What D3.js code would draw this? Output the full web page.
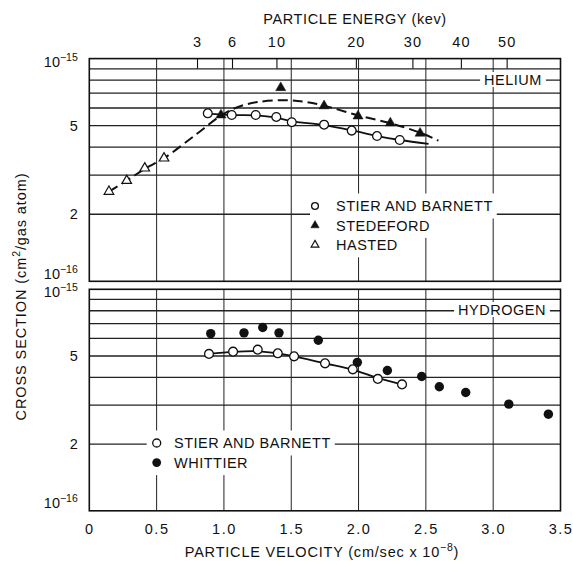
<!DOCTYPE html>
<html>
<head>
<meta charset="utf-8">
<script src="https://cdn.jsdelivr.net/npm/d3@7"></script>
<style>
  html, body { margin: 0; padding: 0; background: #fff; }
  svg { display: block; }
  text { font-family: "Liberation Sans", Arial, sans-serif; fill: #111; }
</style>
</head>
<body>
<svg id="chart" width="573" height="562"></svg>
<script>
// Axis ticks
const velocityTicks = [0, 0.5, 1.0, 1.5, 2.0, 2.5, 3.0, 3.5];
const energyTicks = [3, 6, 10, 20, 30, 40, 50];                 // keV
const energyTickVelocity = [0.80, 1.06, 1.39, 1.98, 2.40, 2.76, 3.10];
const sigmaGrid = [2, 3, 4, 5, 6, 7, 8, 9];                     // x 10^-16 cm^2
const sigmaLabels = [1, 2, 5, 10];

// Helium: velocity (10^8 cm/sec) and cross section (10^-16 cm^2)
const heStierV = [0.88, 1.058, 1.236, 1.389, 1.504, 1.744, 1.949, 2.137, 2.306];
const heStierS = [5.68, 5.58, 5.58, 5.47, 5.18, 5.05, 4.75, 4.49, 4.31];
const heStedefordV = [0.978, 1.422, 1.744, 1.996, 2.236, 2.457];
const heStedefordS = [5.58, 7.40, 6.13, 5.52, 5.14, 4.62];
const heHastedV = [0.146, 0.278, 0.412, 0.555];
const heHastedS = [2.53, 2.83, 3.22, 3.57];
// Helium fitted curves
const heSolidV = [0.88, 1.06, 1.24, 1.39, 1.50, 1.74, 1.95, 2.14, 2.31, 2.52];
const heSolidS = [5.66, 5.58, 5.56, 5.43, 5.24, 5.03, 4.76, 4.49, 4.31, 4.14];
const heDashV = [0.146, 0.278, 0.412, 0.555, 0.78, 0.978, 1.10, 1.25, 1.45, 1.60, 1.744, 2.0, 2.24, 2.457, 2.593];
const heDashS = [2.53, 2.83, 3.20, 3.57, 4.50, 5.55, 6.05, 6.38, 6.50, 6.40, 6.15, 5.55, 5.12, 4.65, 4.28];

// Hydrogen
const hStierV = [0.889, 1.068, 1.251, 1.400, 1.521, 1.751, 1.957, 2.143, 2.323];
const hStierS = [5.11, 5.23, 5.34, 5.14, 4.98, 4.63, 4.35, 3.94, 3.72];
const hWhittierV = [0.902, 1.149, 1.288, 1.409, 1.701, 1.991, 2.214, 2.469, 2.600, 2.796, 3.116, 3.410];
const hWhittierS = [6.31, 6.36, 6.72, 6.36, 5.89, 4.68, 4.30, 4.04, 3.63, 3.42, 3.03, 2.73];
const hSolidV = [0.889, 1.07, 1.25, 1.40, 1.52, 1.75, 1.96, 2.14, 2.32];
const hSolidS = [5.11, 5.22, 5.25, 5.14, 4.98, 4.63, 4.33, 3.98, 3.72];

const svg = d3.select("#chart");
svg.append("rect").attr("width", 573).attr("height", 562).attr("fill", "#fff");

const x = d3.scaleLinear().domain([0, 3.5]).range([89.3, 560.5]);
const xE = d3.scaleLinear().domain(energyTicks).range(energyTickVelocity.map(x));

const panels = [
  { name: "HELIUM", y: d3.scaleLog().domain([1, 10]).range([281.3, 58.6]) },
  { name: "HYDROGEN", y: d3.scaleLog().domain([1, 10]).range([510.8, 289.3]) }
];
const pts = (v, s) => v.map((d, i) => [d, s[i]]);

function drawPanel(p) {
  const g = svg.append("g");
  const y = p.y;
  const [yb, yt] = y.range();
  const [xl, xr] = x.range();

  // grid
  g.append("g").selectAll("line").data(sigmaGrid).join("line")
    .attr("x1", xl).attr("x2", xr)
    .attr("y1", d => y(d)).attr("y2", d => y(d))
    .attr("stroke", "#222").attr("stroke-width", 1.3);
  g.append("g").selectAll("line").data(velocityTicks.slice(1, -1)).join("line")
    .attr("x1", d => x(d)).attr("x2", d => x(d))
    .attr("y1", yt).attr("y2", yb)
    .attr("stroke", "#222").attr("stroke-width", 1);

  // left axis labels
  const ax = g.append("g").attr("transform", `translate(${xl},0)`)
    .call(d3.axisLeft(y).tickValues(sigmaLabels).tickSize(0).tickPadding(11.5).tickFormat(""));
  ax.select(".domain").remove();
  ax.selectAll(".tick text").each(function (d) {
    const t = d3.select(this).attr("font-size", 14.5).attr("font-family", null).attr("fill", "#111");
    if (d === 1 || d === 10) {
      t.attr("dy", null).attr("y", d === 10 ? 7.5 : -3);
      t.append("tspan").text("10");
      t.append("tspan").attr("font-size", 10.5).attr("dy", -6).text("−" + (d === 10 ? 15 : 16));
    } else {
      t.text(d);
    }
  });
  return g;
}

const gHe = drawPanel(panels[0]);
const gH = drawPanel(panels[1]);

// knockout label on the grid
function gridLabel(g, text, cx, cy) {
  const r = g.append("rect").attr("fill", "#fff");
  const t = g.append("text").attr("x", cx).attr("y", cy).attr("text-anchor", "middle")
    .attr("dy", "0.36em").attr("font-size", 14.5).attr("letter-spacing", 0.5).text(text);
  const b = t.node().getBBox();
  r.attr("x", b.x - 4).attr("y", cy - 7.5).attr("width", b.width + 8).attr("height", 15);
}
gridLabel(gHe, "HELIUM", 513, 79.5);
gridLabel(gH, "HYDROGEN", 502, 309.5);

// legends
function legend(g, items, sx, tx, y0, dy, padL) {
  items.forEach((it, i) => {
    const yy = y0 + i * dy;
    const r = g.append("rect").attr("fill", "#fff");
    const t = g.append("text").attr("x", tx).attr("y", yy).attr("dy", "0.36em")
      .attr("font-size", 14.5).attr("letter-spacing", 0.5).text(it.label);
    const w = t.node().getComputedTextLength();
    r.attr("x", sx - padL).attr("y", yy - 12.5).attr("width", tx + w - sx + padL + 4).attr("height", 25);
    it.draw(g.append("g").attr("transform", `translate(${sx},${yy})`));
  });
}
const openCircle = (r) => (s) => s.append("circle").attr("r", r).attr("fill", "#fff").attr("stroke", "#111").attr("stroke-width", 1.3);
const fullCircle = (r) => (s) => s.append("circle").attr("r", r).attr("fill", "#111");
const triangle = (size, fill) => (s) => s.append("path").attr("d", d3.symbol(d3.symbolTriangle, size)())
  .attr("fill", fill ? "#111" : "#fff").attr("stroke", "#111").attr("stroke-width", fill ? 0.5 : 1.2);

legend(gHe, [
  { label: "STIER AND BARNETT", draw: openCircle(3.4) },
  { label: "STEDEFORD", draw: triangle(30, true) },
  { label: "HASTED", draw: triangle(26, false) }
], 315, 336, 206, 19.4, 5);
legend(gH, [
  { label: "STIER AND BARNETT", draw: openCircle(4) },
  { label: "WHITTIER", draw: fullCircle(4.4) }
], 156.7, 174, 443, 19.6, 10);

// curves
function curve(g, y, data, dashed) {
  g.append("path").datum(data)
    .attr("d", d3.line().x(d => x(d[0])).y(d => y(d[1])).curve(d3.curveCatmullRom.alpha(0.5)))
    .attr("fill", "none").attr("stroke", "#111").attr("stroke-width", dashed ? 2 : 1.8)
    .attr("stroke-dasharray", dashed ? "10,5" : null);
}
const yHe = panels[0].y, yH = panels[1].y;
curve(gHe, yHe, pts(heDashV, heDashS), true);
curve(gHe, yHe, pts(heSolidV, heSolidS), false);
curve(gH, yH, pts(hSolidV, hSolidS), false);

// markers
function markers(g, y, data, draw) {
  data.forEach(d => draw(g.append("g").attr("transform", `translate(${x(d[0])},${y(d[1])})`)));
}
markers(gHe, yHe, pts(heHastedV, heHastedS), triangle(40, false));
markers(gHe, yHe, pts(heStedefordV, heStedefordS), triangle(44, true));
markers(gHe, yHe, pts(heStierV, heStierS), openCircle(4.4));
markers(gH, yH, pts(hWhittierV, hWhittierS), fullCircle(4.7));
markers(gH, yH, pts(hStierV, hStierS), openCircle(4.4));

// panel frames
panels.forEach(p => {
  const [yb, yt] = p.y.range();
  svg.append("rect").attr("x", x.range()[0]).attr("y", yt)
    .attr("width", x.range()[1] - x.range()[0]).attr("height", yb - yt)
    .attr("fill", "none").attr("stroke", "#111").attr("stroke-width", 1.6);
});

// top energy axis
const topAx = svg.append("g").attr("transform", `translate(0,${panels[0].y.range()[1]})`)
  .call(d3.axisTop(xE).tickValues(energyTicks).tickSizeInner(-10).tickSizeOuter(0).tickPadding(12));
topAx.select(".domain").remove();
topAx.selectAll(".tick line").attr("stroke", "#111").attr("stroke-width", 1.1);
topAx.selectAll(".tick text").attr("font-size", 14.5).attr("font-family", null).attr("fill", "#111").attr("letter-spacing", 1);

// bottom velocity axis
const botAx = svg.append("g").attr("transform", `translate(0,${panels[1].y.range()[0]})`)
  .call(d3.axisBottom(x).tickValues(velocityTicks).tickSize(0).tickPadding(13).tickFormat(d3.format(".1f")));
botAx.select(".domain").remove();
botAx.selectAll(".tick text").attr("font-size", 14.5).attr("font-family", null).attr("fill", "#111")
  .attr("letter-spacing", 1.5).text(d => d === 0 ? "0" : d3.format(".1f")(d));

// titles
svg.append("text").attr("x", 355).attr("y", 23.5).attr("text-anchor", "middle")
  .attr("font-size", 14.5).attr("letter-spacing", 0.6).text("PARTICLE ENERGY (kev)");

const xt = svg.append("text").attr("x", 322).attr("y", 556.5).attr("text-anchor", "middle")
  .attr("font-size", 14.5).attr("letter-spacing", 0.8);
xt.append("tspan").text("PARTICLE VELOCITY (cm/sec x 10");
xt.append("tspan").attr("font-size", 10.5).attr("dy", -6).text("−8");
xt.append("tspan").attr("dy", 6).text(")");

const yt = svg.append("text").attr("transform", "translate(26,296.5) rotate(-90)").attr("text-anchor", "middle")
  .attr("font-size", 14.5).attr("letter-spacing", 0.9);
yt.append("tspan").text("CROSS SECTION (cm");
yt.append("tspan").attr("font-size", 10.5).attr("dy", -6).text("2");
yt.append("tspan").attr("dy", 6).text("/gas atom)");
</script>
</body>
</html>
